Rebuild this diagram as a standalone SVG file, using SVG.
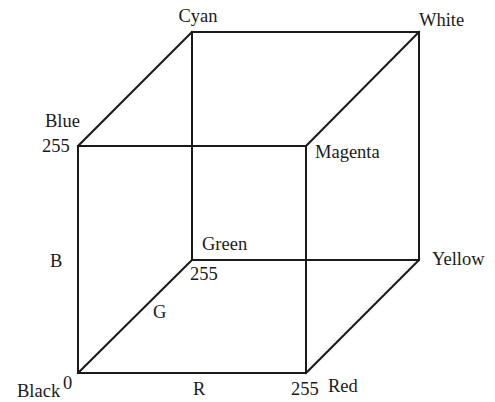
<svg xmlns="http://www.w3.org/2000/svg" width="495" height="402" viewBox="0 0 495 402">
<style>
.e{stroke:#1a1a1a;stroke-width:2;fill:none;stroke-linecap:square}
text{font-family:"Liberation Serif","Times New Roman",serif;font-size:18.5px;fill:#1a1a1a}
</style>
<rect width="495" height="402" fill="#fff"/>
<g id="connectors">
<line class="e" x1="78" y1="146" x2="306" y2="146"/>
<line class="e" x1="78" y1="146" x2="78" y2="373"/>
<line class="e" x1="78" y1="373" x2="306" y2="373"/>
<line class="e" x1="306" y1="146" x2="306" y2="373"/>
<line class="e" x1="192" y1="32" x2="419" y2="32"/>
<line class="e" x1="192" y1="32" x2="192" y2="260"/>
<line class="e" x1="192" y1="260" x2="419" y2="260"/>
<line class="e" x1="419" y1="32" x2="419" y2="260"/>
<line class="e" x1="78" y1="146" x2="192" y2="32"/>
<line class="e" x1="306" y1="146" x2="419" y2="32"/>
<line class="e" x1="78" y1="373" x2="192" y2="260"/>
<line class="e" x1="306" y1="373" x2="419" y2="260"/>
</g>
<g id="cyan"><text x="198" y="22" text-anchor="middle">Cyan</text></g>
<g id="white"><text x="419" y="26">White</text></g>
<g id="blue"><text x="45" y="127">Blue</text><text x="42" y="152">255</text></g>
<g id="magenta"><text x="315" y="158">Magenta</text></g>
<g id="green"><text x="202" y="250">Green</text><text x="190" y="280">255</text></g>
<g id="yellow"><text x="432" y="265">Yellow</text></g>
<g id="axis-b"><text x="50" y="267">B</text></g>
<g id="axis-g"><text x="153" y="318">G</text></g>
<g id="axis-r"><text x="193" y="395">R</text></g>
<g id="black"><text x="63" y="389">0</text><text x="17" y="397">Black</text></g>
<g id="red"><text x="291" y="395">255</text><text x="328" y="392">Red</text></g>
</svg>
